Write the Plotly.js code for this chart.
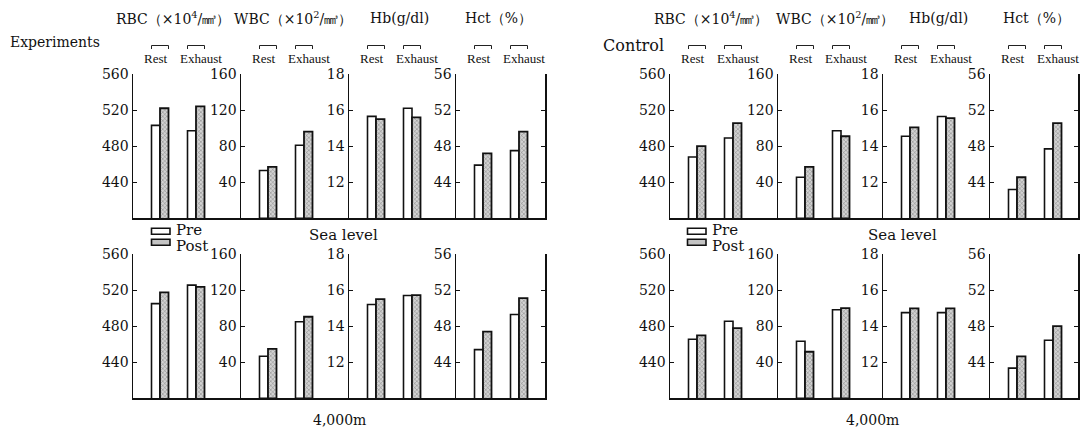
<!DOCTYPE html>
<html>
<head>
<meta charset="utf-8">
<script src="https://cdn.plot.ly/plotly-3.0.1.min.js"></script>
<style>html,body{margin:0;padding:0;background:#fff;}#chart{width:1084px;height:428px;}</style>
</head>
<body>
<div id="chart"></div>
<script>
// ---------------- data ----------------
const categories = ['Rest', 'Exhaust'];
const variableTitles = ['RBC（×10<sup>4</sup>/㎣）', 'WBC（×10<sup>2</sup>/㎣）', 'Hb(g/dl)', 'Hct（%）'];
const axisRanges = [[400, 560], [0, 160], [10, 18], [40, 56]];
const tickValues = [[440, 480, 520, 560], [40, 80, 120, 160], [12, 14, 16, 18], [44, 48, 52, 56]];
const seriesNames = ['Pre', 'Post'];
const groupNames = ['Experiments', 'Control'];
const rowLabels = ['Sea level', '4,000m'];

// values per variable [RBC, WBC, Hb, Hct], each [Rest, Exhaust]
const expSeaPre   = [[503, 497], [53, 81], [15.65, 16.1], [45.9, 47.5]];
const expSeaPost  = [[522, 524], [57, 96], [15.5, 15.6], [47.2, 49.6]];
const expAltPre   = [[505, 525.5], [46.7, 84.8], [15.2, 15.7], [45.4, 49.3]];
const expAltPost  = [[517.5, 523.5], [54.9, 90.4], [15.5, 15.72], [47.4, 51.1]];
const ctlSeaPre   = [[468, 489], [45.5, 97], [14.55, 15.64], [43.2, 47.7]];
const ctlSeaPost  = [[480, 505.5], [57, 91], [15.04, 15.55], [44.55, 50.55]];
const ctlAltPre   = [[465.5, 485.5], [63.3, 98.2], [14.75, 14.75], [43.35, 46.44]];
const ctlAltPost  = [[469.8, 477.8], [51.6, 100], [14.98, 14.98], [44.65, 48]];

const dataSets = [
  [[expSeaPre, expSeaPost], [expAltPre, expAltPost]],
  [[ctlSeaPre, ctlSeaPost], [ctlAltPre, ctlAltPost]]
];

// ---------------- layout geometry (pixels) ----------------
const W = 1084, H = 428;
const px = p => p / W;
const py = p => 1 - p / H;
const groupEdges = [[133, 241, 349, 456, 545], [670, 778, 883, 990, 1078]];
const titleCenters = [[173, 292.5, 399, 498], [711, 835, 938, 1036]];
const legendLeft = [151.5, 687.5];
const rowBands = [[74, 218.3], [254, 398.3]];
const catPx = 36;  // pixels per category step
const catLabelShift = [-4, 5];

const serif = 'DejaVu Serif, Liberation Serif, serif';
const traces = [];
const layout = {
  width: W, height: H,
  margin: {l: 0, r: 0, t: 0, b: 0},
  paper_bgcolor: '#fff', plot_bgcolor: 'rgba(0,0,0,0)',
  barmode: 'group', bargap: 0.528, bargroupgap: 0,
  showlegend: false,
  font: {family: serif, size: 14, color: '#111'},
  annotations: [], shapes: []
};

const preColor = '#ffffff';
const postColor = '#c4c4c4';
const postPattern = {shape: 'x', size: 3, solidity: 0.25, fgcolor: '#6e6e6e', bgcolor: '#d2d2d2', fillmode: 'replace'};

let k = 0;
for (let g = 0; g < 2; g++) {
  const edges = groupEdges[g];
  for (let r = 0; r < 2; r++) {
    const [topPx, botPx] = rowBands[r];
    const [preSet, postSet] = dataSets[g][r];
    for (let v = 0; v < 4; v++) {
      k++;
      const xa = k === 1 ? 'x' : 'x' + k;
      const ya = k === 1 ? 'y' : 'y' + k;
      const xkey = k === 1 ? 'xaxis' : 'xaxis' + k;
      const ykey = k === 1 ? 'yaxis' : 'yaxis' + k;
      const wpx = edges[v + 1] - edges[v];
      layout[xkey] = {
        domain: [px(edges[v]), px(edges[v + 1])], anchor: ya,
        type: 'category', categoryorder: 'array', categoryarray: categories,
        range: [-0.75, wpx / catPx - 0.75],
        showline: true, linecolor: '#111', linewidth: 1.5,
        showticklabels: false, ticks: '', showgrid: false, zeroline: false, fixedrange: true
      };
      layout[ykey] = {
        domain: [py(botPx), py(topPx)], anchor: xa,
        range: axisRanges[v], tickmode: 'array', tickvals: tickValues[v],
        ticks: 'inside', ticklen: 4, tickwidth: 1, tickcolor: '#111',
        showline: true, linecolor: '#111', linewidth: 1.5,
        mirror: v === 3 ? 'ticks' : false,
        showgrid: false, zeroline: false, fixedrange: true,
        tickfont: {family: serif, size: 14, color: '#111'}
      };
      traces.push({
        type: 'bar', x: categories, y: preSet[v], xaxis: xa, yaxis: ya,
        name: seriesNames[0],
        marker: {color: preColor, line: {color: '#111', width: 1.6}}, hoverinfo: 'skip'
      });
      traces.push({
        type: 'bar', x: categories, y: postSet[v], xaxis: xa, yaxis: ya,
        name: seriesNames[1],
        marker: {color: postColor, pattern: postPattern, line: {color: '#111', width: 1.8}}, hoverinfo: 'skip'
      });
      if (r === 0) {
        // variable title
        layout.annotations.push({
          xref: 'paper', yref: 'paper', x: px(titleCenters[g][v]), y: py(18),
          text: variableTitles[v], showarrow: false, xanchor: 'center', yanchor: 'middle',
          font: {family: serif, size: 14, color: '#111'}
        });
        // category labels with brackets
        categories.forEach((c, i) => {
          layout.annotations.push({
            xref: xa, yref: 'paper', x: c, y: py(58.5), text: c, showarrow: false,
            xanchor: 'center', yanchor: 'middle', xshift: catLabelShift[i],
            font: {family: 'Liberation Serif, serif', size: 13, color: '#111'}
          });
          const x0 = i - 0.236, x1 = i + 0.236;
          const line = {color: '#222', width: 1};
          layout.shapes.push({type: 'line', xref: xa, yref: 'paper', x0: x0, x1: x1, y0: py(45.5), y1: py(45.5), line});
          layout.shapes.push({type: 'line', xref: xa, yref: 'paper', x0: x0, x1: x0, y0: py(45.5), y1: py(49), line});
          layout.shapes.push({type: 'line', xref: xa, yref: 'paper', x0: x1, x1: x1, y0: py(45.5), y1: py(49), line});
        });
      }
    }
  }
}

// legend keys (Pre / Post) drawn under each top row
legendLeft.forEach(lx => {
  [[228.3, 234.3, 230], [239.3, 245.3, 246]].forEach((pos, i) => {
    layout.shapes.push({type: 'rect', xref: 'paper', yref: 'paper',
      x0: px(lx), x1: px(lx + 18.5), y0: py(pos[1]), y1: py(pos[0]),
      fillcolor: i === 0 ? preColor : postColor, line: {color: '#111', width: 1.6}});
    layout.annotations.push({xref: 'paper', yref: 'paper', x: px(lx + 22), y: py(pos[2]),
      xanchor: 'left', yanchor: 'middle', text: seriesNames[i], showarrow: false,
      font: {family: serif, size: 15, color: '#111'}});
  });
});

// group labels and row labels
layout.annotations.push({xref: 'paper', yref: 'paper', x: px(8), y: py(42), xanchor: 'left', yanchor: 'middle',
  text: groupNames[0], showarrow: false, font: {family: serif, size: 14, color: '#111'}});
layout.annotations.push({xref: 'paper', yref: 'paper', x: px(601), y: py(45), xanchor: 'left', yanchor: 'middle',
  text: groupNames[1], showarrow: false, font: {family: serif, size: 16, color: '#111'}});
[[343, 902], [339, 872]].forEach((centers, r) => {
  const yp = r === 0 ? 235 : 420;
  centers.forEach(cx => {
    layout.annotations.push({xref: 'paper', yref: 'paper', x: px(cx), y: py(yp), xanchor: 'center', yanchor: 'middle',
      text: rowLabels[r], showarrow: false, font: {family: serif, size: r === 0 ? 15 : 14, color: '#111'}});
  });
});

Plotly.newPlot('chart', traces, layout, {staticPlot: true, displayModeBar: false});
</script>
</body>
</html>
